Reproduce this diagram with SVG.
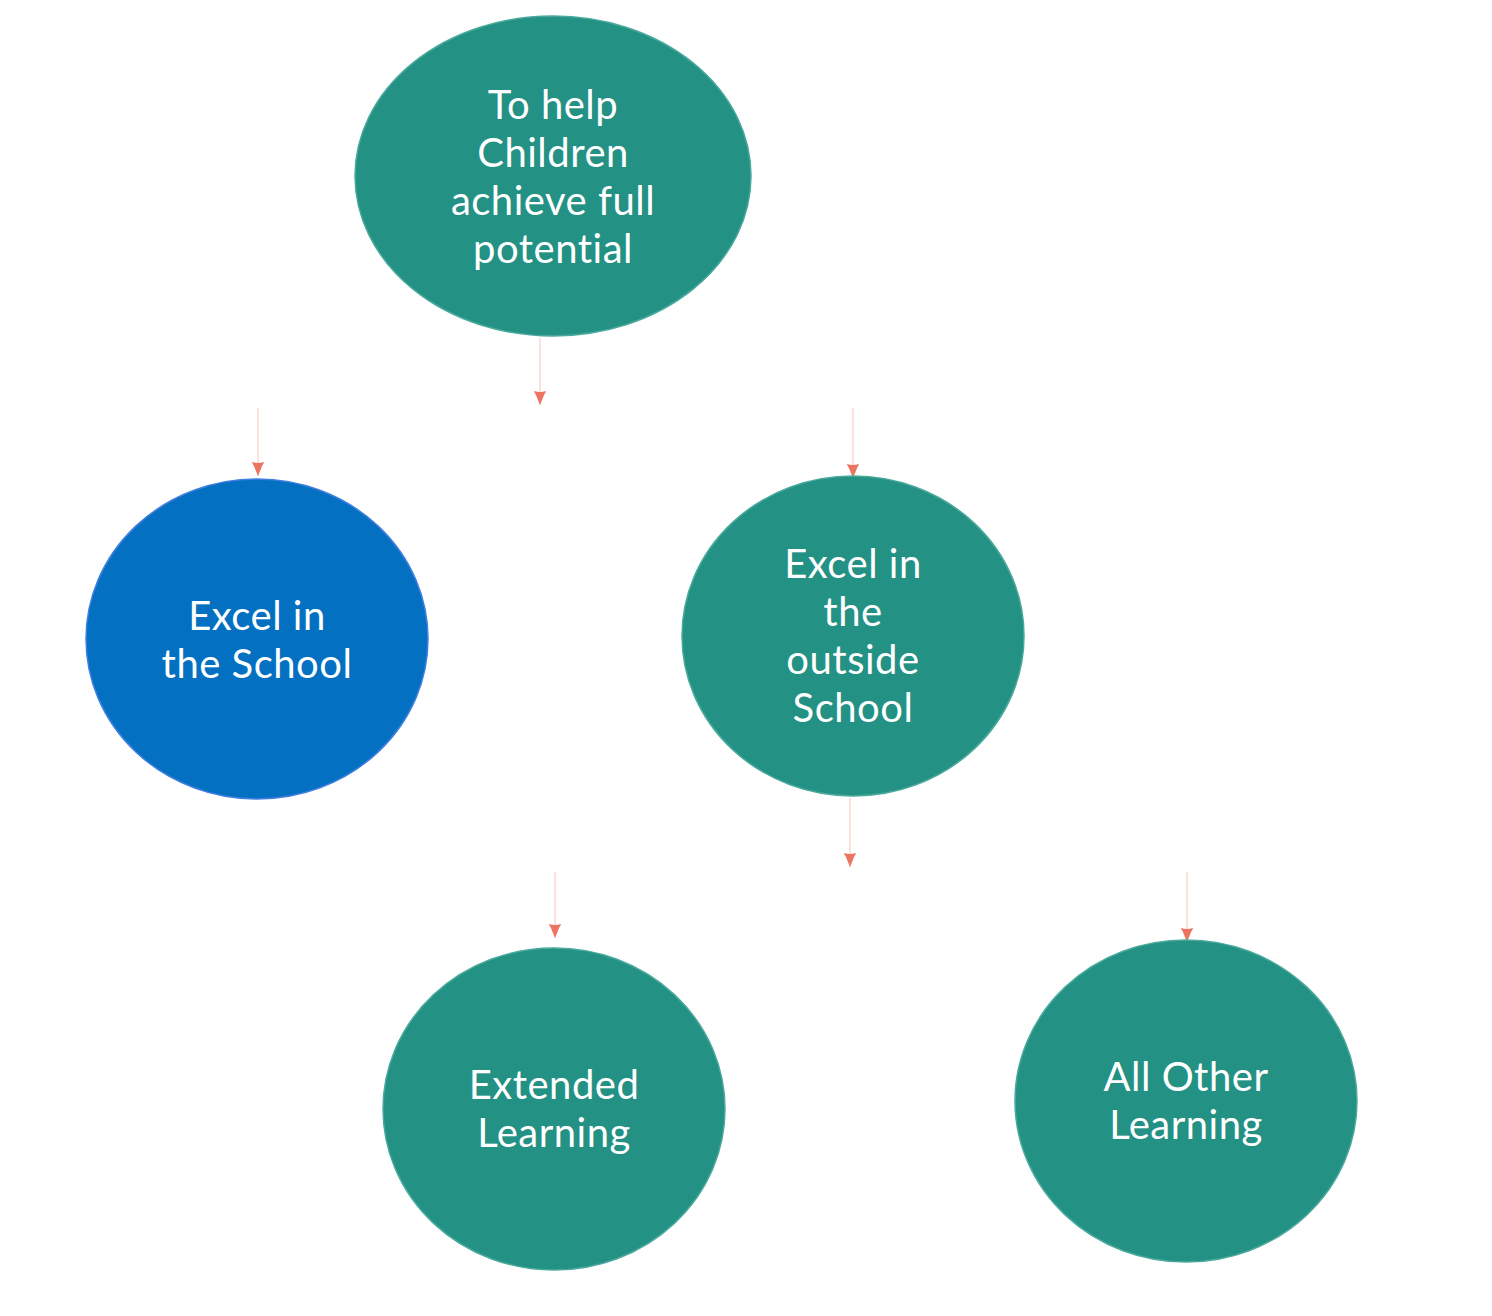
<svg xmlns="http://www.w3.org/2000/svg" width="1492" height="1316" viewBox="0 0 1492 1316">
<defs>
<style>
.teal{fill:#239184;stroke:#4aa99c;stroke-width:1.5}
.blue{fill:#0370C1;stroke:#3f7fe0;stroke-width:1.5}
.lbl{font-family:Lato,"Noto Sans","Liberation Sans",sans-serif;font-size:40px;letter-spacing:0.5px;fill:#ffffff;text-anchor:middle}
.conn{stroke:#f9d9d5;stroke-width:1.5;fill:none;marker-end:url(#ah)}
</style>
<marker id="ah" markerWidth="14" markerHeight="12" refX="14" refY="6" orient="auto" markerUnits="userSpaceOnUse" viewBox="0 0 14 12">
<path d="M0,0 Q1,0 4,2 L4,10 Q1,12 0,12 Q2,6 0,0 Z M3,1.5 L14,6 L3,10.5 Z" fill="#ec7461"/>
</marker>
</defs>
<rect width="1492" height="1316" fill="#ffffff"/>
<g id="connectors">
<line class="conn" x1="540" y1="338" x2="540" y2="405"/>
<line class="conn" x1="258" y1="408" x2="258" y2="476"/>
<line class="conn" x1="853" y1="408" x2="853" y2="478"/>
<line class="conn" x1="850" y1="798" x2="850" y2="867"/>
<line class="conn" x1="555" y1="872" x2="555" y2="938"/>
<line class="conn" x1="1187" y1="872" x2="1187" y2="942"/>
</g>
<g id="node-top">
<ellipse class="teal" cx="553" cy="176" rx="198" ry="160"/>
<text class="lbl" x="553" y="119">To help</text>
<text class="lbl" x="553" y="167">Children</text>
<text class="lbl" x="553" y="215">achieve full</text>
<text class="lbl" x="553" y="263">potential</text>
</g>
<g id="node-school">
<ellipse class="blue" cx="257" cy="639" rx="171" ry="160"/>
<text class="lbl" x="257" y="630">Excel in</text>
<text class="lbl" x="257" y="678">the School</text>
</g>
<g id="node-outside">
<ellipse class="teal" cx="853" cy="636" rx="171" ry="160"/>
<text class="lbl" x="853" y="578">Excel in</text>
<text class="lbl" x="853" y="626">the</text>
<text class="lbl" x="853" y="674">outside</text>
<text class="lbl" x="853" y="722">School</text>
</g>
<g id="node-extended">
<ellipse class="teal" cx="554" cy="1109" rx="171" ry="161"/>
<text class="lbl" x="554" y="1099">Extended</text>
<text class="lbl" x="554" y="1147">Learning</text>
</g>
<g id="node-other">
<ellipse class="teal" cx="1186" cy="1101" rx="171" ry="161"/>
<text class="lbl" x="1186" y="1091">All Other</text>
<text class="lbl" x="1186" y="1139">Learning</text>
</g>
</svg>
